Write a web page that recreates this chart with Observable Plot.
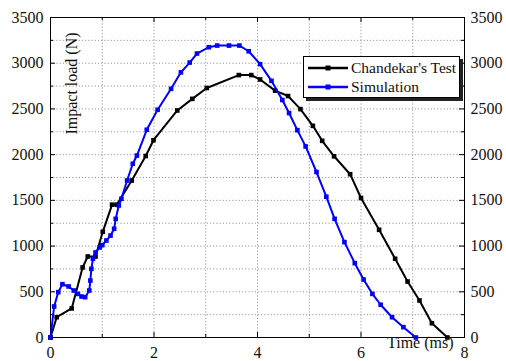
<!DOCTYPE html>
<html><head><meta charset="utf-8">
<script src="https://cdn.jsdelivr.net/npm/d3@7"></script>
<script src="https://cdn.jsdelivr.net/npm/@observablehq/plot@0.6"></script>
<style>
html,body{margin:0;padding:0;background:#fff;}
#chart{position:relative;width:506px;height:361px;font-family:"Liberation Serif","Times New Roman",serif;color:#111;}
#chart svg text{font-family:"Liberation Serif","Times New Roman",serif;}
#legend{position:absolute;left:303px;top:56px;width:155px;height:40px;border:1px solid #000;background:#fff;box-shadow:3px 3px 0 #222;font-size:15.5px;line-height:18px;}
.row{position:absolute;left:4px;display:flex;align-items:center;height:18px;white-space:nowrap;}
.row svg{margin-right:3px;}
</style></head><body><div id="chart"></div>
<script>
const seriesNames = ["Chandekar's Test", "Simulation"];
const seriesColors = ["#000000", "#0000ff"];

const testTime = [0, 0.12, 0.41, 0.62, 0.72, 0.87, 1.01, 1.19, 1.28, 1.57, 1.84, 1.99, 2.45, 2.74, 3.02, 3.64, 3.88, 4.05, 4.34, 4.59, 4.83, 5.07, 5.25, 5.48, 5.79, 6.0, 6.35, 6.66, 6.9, 7.13, 7.37, 7.67];
const testLoad = [0, 222, 318, 766, 886, 886, 1156, 1453, 1453, 1717, 1985, 2158, 2483, 2610, 2729, 2870, 2870, 2822, 2700, 2641, 2498, 2315, 2151, 1982, 1786, 1526, 1178, 861, 612, 405, 156, 0];

const simTime = [0, 0.07, 0.15, 0.23, 0.35, 0.45, 0.53, 0.6, 0.67, 0.75, 0.77, 0.79, 0.82, 0.87, 0.95, 1.0, 1.08, 1.16, 1.23, 1.26, 1.32, 1.37, 1.48, 1.59, 1.67, 1.86, 2.07, 2.33, 2.52, 2.69, 2.83, 3.06, 3.22, 3.45, 3.65, 3.83, 4.05, 4.27, 4.48, 4.61, 4.77, 4.93, 5.14, 5.33, 5.49, 5.68, 5.88, 6.05, 6.22, 6.38, 6.6, 6.82, 7.06];
const simLoad = [0, 339, 496, 583, 558, 514, 477, 448, 441, 514, 623, 751, 861, 930, 985, 1010, 1061, 1115, 1189, 1298, 1444, 1517, 1717, 1900, 1990, 2272, 2491, 2720, 2900, 3007, 3106, 3175, 3193, 3193, 3193, 3131, 2990, 2807, 2598, 2455, 2268, 2090, 1810, 1540, 1298, 1043, 813, 634, 477, 358, 222, 113, 0];

const xTicks = [0, 2, 4, 6, 8];
const xMinor = [1, 3, 5, 7];
const yTicks = [0, 500, 1000, 1500, 2000, 2500, 3000, 3500];
const yMinor = [250, 750, 1250, 1750, 2250, 2750, 3250];
const xGrid = [1, 2, 3, 4, 5, 6, 7];
const yGrid = [250, 500, 750, 1000, 1250, 1500, 1750, 2000, 2250, 2500, 2750, 3000, 3250];
const xLabel = "Time (ms)";
const yLabel = "Impact load (N)";

const W = 506, H = 361, mL = 50, mR = 42, mT = 17, mB = 24;
const innerW = W - mL - mR, innerH = H - mT - mB;

const test = testTime.map((t, i) => ({t, v: testLoad[i]}));
const sim = simTime.map((t, i) => ({t, v: simLoad[i]}));
const fmt = d => String(d);

const plot = Plot.plot({
  width: W, height: H,
  marginLeft: mL, marginRight: mR, marginTop: mT, marginBottom: mB,
  style: {fontFamily: '"Liberation Serif","Times New Roman",serif', fontSize: "16px", color: "#111", background: "#fff", overflow: "visible"},
  x: {domain: [0, 8]},
  y: {domain: [0, 3500]},
  marks: [
    Plot.ruleX(xGrid, {x: d => d, stroke: "#999", strokeDasharray: "1.2,2", strokeWidth: 1}),
    Plot.ruleY(yGrid, {y: d => d, stroke: "#999", strokeDasharray: "1.2,2", strokeWidth: 1}),
    Plot.ruleX(xTicks, {x: d => d, insetTop: innerH - 5, stroke: "#000"}),
    Plot.ruleX(xMinor, {x: d => d, insetTop: innerH - 3, stroke: "#000"}),
    Plot.ruleX(xTicks, {x: d => d, insetBottom: innerH - 5, stroke: "#000"}),
    Plot.ruleX(xMinor, {x: d => d, insetBottom: innerH - 3, stroke: "#000"}),
    Plot.ruleY(yTicks, {y: d => d, insetRight: innerW - 5, stroke: "#000"}),
    Plot.ruleY(yMinor, {y: d => d, insetRight: innerW - 3, stroke: "#000"}),
    Plot.ruleY(yTicks, {y: d => d, insetLeft: innerW - 5, stroke: "#000"}),
    Plot.ruleY(yMinor, {y: d => d, insetLeft: innerW - 3, stroke: "#000"}),
    Plot.frame({stroke: "#000", strokeWidth: 1}),
    Plot.axisX({anchor: "bottom", ticks: xTicks, tickFormat: fmt, tickSize: 0, tickPadding: 9, label: null, fontSize: 16}),
    Plot.axisY({anchor: "left", ticks: yTicks, tickFormat: fmt, tickSize: 0, tickPadding: 7, label: null, fontSize: 16}),
    Plot.axisY({anchor: "right", ticks: yTicks, tickFormat: fmt, tickSize: 0, tickPadding: 6, label: null, fontSize: 16}),
    Plot.line(test, {x: "t", y: "v", stroke: seriesColors[0], strokeWidth: 2}),
    Plot.dot(test, {x: "t", y: "v", symbol: "square", r: 2.6, fill: seriesColors[0]}),
    Plot.line(sim, {x: "t", y: "v", stroke: seriesColors[1], strokeWidth: 2}),
    Plot.dot(sim, {x: "t", y: "v", symbol: "square", r: 2.6, fill: seriesColors[1]}),
    Plot.text([yLabel], {frameAnchor: "top-left", rotate: -90, dx: 15, dy: 66, textAnchor: "middle", fontSize: 16, fill: "#111"}),
    Plot.text([xLabel], {frameAnchor: "bottom-right", dx: -11, dy: 10, textAnchor: "end", fontSize: 16, fill: "#111"})
  ]
});

const chart = document.getElementById("chart");
chart.appendChild(plot);

const legend = document.createElement("div");
legend.id = "legend";
seriesNames.forEach((name, i) => {
  const row = document.createElement("div");
  row.className = "row";
  row.style.top = (2 + i * 19) + "px";
  row.innerHTML = `<svg width="40" height="10"><line x1="0" y1="5" x2="40" y2="5" stroke="${seriesColors[i]}" stroke-width="2.5"/><rect x="17.5" y="2.5" width="5" height="5" fill="${seriesColors[i]}"/></svg><span>${name}</span>`;
  legend.appendChild(row);
});
chart.appendChild(legend);
</script>
</body></html>
